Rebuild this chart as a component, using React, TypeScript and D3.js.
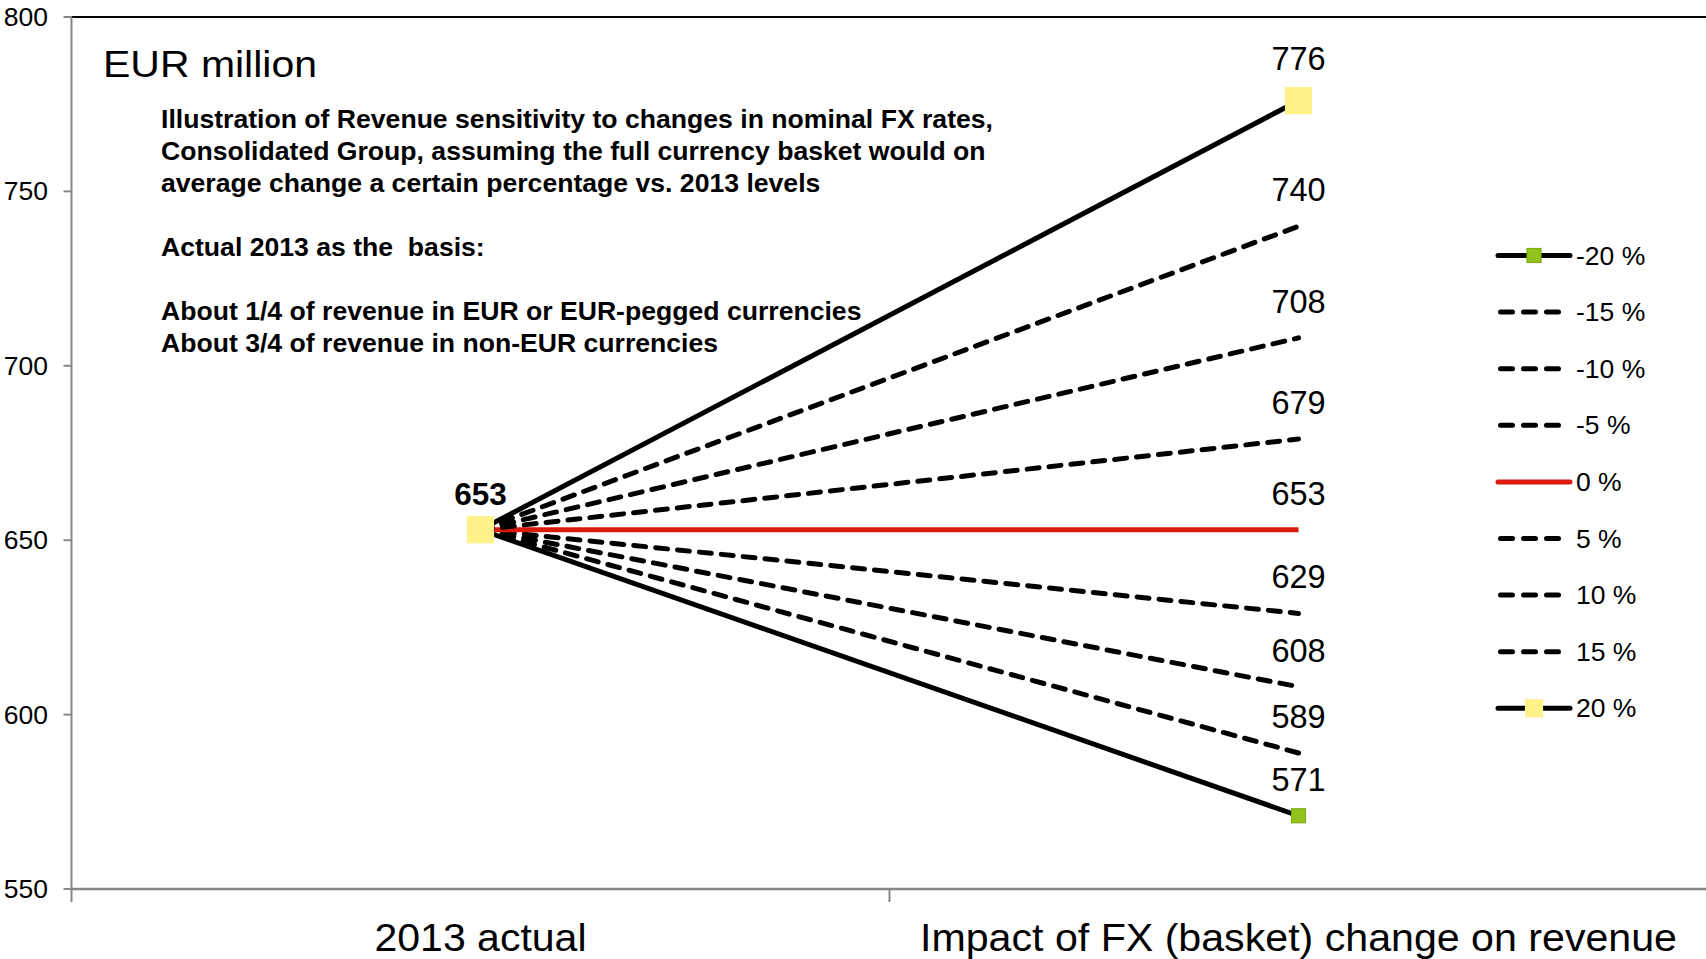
import React from "react";
import * as d3 from "d3";

// Chart data
const categories = ["2013 actual", "Impact of FX (basket) change on revenue"];
const scenarioLabels = ["-20 %", "-15 %", "-10 %", "-5 %", "0 %", "5 %", "10 %", "15 %", "20 %"];
const baseValue = 653;
const impactValues = [571, 589, 608, 629, 653, 679, 708, 740, 776];
const yTicks = [550, 600, 650, 700, 750, 800];
const notes = [
  "Illustration of Revenue sensitivity to changes in nominal FX rates,",
  "Consolidated Group, assuming the full currency basket would on",
  "average change a certain percentage vs. 2013 levels",
  "",
  "Actual 2013 as the  basis:",
  "",
  "About 1/4 of revenue in EUR or EUR-pegged currencies",
  "About 3/4 of revenue in non-EUR currencies",
];

const W = 1706;
const H = 959;
const FONT = "'Liberation Sans', Arial, Helvetica, sans-serif";

const plot = { left: 71.5, right: 1707.5, top: 17, bottom: 889 };

type Style = {
  stroke: string;
  dash?: string;
  marker?: { size: number; fill: string; stroke: string };
};

function styleFor(i: number): Style {
  const last = scenarioLabels.length - 1;
  if (i === 0) return { stroke: "#000", marker: { size: 14, fill: "#92C31E", stroke: "#7FAE12" } };
  if (i === last) return { stroke: "#000", marker: { size: 26, fill: "#FFF28A", stroke: "#FFF28A" } };
  if (scenarioLabels[i] === "0 %") return { stroke: "#DC1A0C" };
  return { stroke: "#000", dash: "12 10" };
}

export default function App() {
  const x = d3.scaleBand<string>().domain(categories).range([plot.left, plot.right]).paddingInner(0).paddingOuter(0);
  const cx = (c: string) => (x(c) as number) + x.bandwidth() / 2;
  const y = d3.scaleLinear().domain([550, 800]).range([plot.bottom, plot.top]);
  const line = d3
    .line<[number, number]>()
    .x((d) => d[0])
    .y((d) => d[1]);

  const x0 = cx(categories[0]);
  const x1 = cx(categories[1]);
  const legendTop = 255.5;
  const legendStep = 56.6;
  const legendX0 = 1500.5;
  const legendX1 = 1567.5;

  return (
    <svg
      width={W}
      height={H}
      viewBox={`0 0 ${W} ${H}`}
      style={{ position: "absolute", left: 0, top: 0, background: "#fff" }}
      fontFamily={FONT}
    >
      <rect x={0} y={0} width={W} height={H} fill="#fff" />

      {/* plot frame top edge */}
      <line x1={plot.left} x2={W} y1={plot.top} y2={plot.top} stroke="#000" strokeWidth={2.2} />

      {/* value axis */}
      <line x1={plot.left} x2={plot.left} y1={plot.top} y2={plot.bottom + 13} stroke="#868686" strokeWidth={2} />
      {yTicks.map((t) => (
        <g key={t}>
          <line x1={plot.left - 8} x2={plot.left} y1={y(t)} y2={y(t)} stroke="#868686" strokeWidth={2} />
          <text x={48} y={y(t)} textAnchor="end" dominantBaseline="central" fontSize={26.5} fill="#000">
            {t}
          </text>
        </g>
      ))}

      {/* category axis */}
      <line x1={plot.left} x2={W} y1={plot.bottom} y2={plot.bottom} stroke="#868686" strokeWidth={2.6} />
      {categories.slice(1).map((c) => (
        <line
          key={c}
          x1={x(c) as number}
          x2={x(c) as number}
          y1={plot.bottom}
          y2={plot.bottom + 13}
          stroke="#868686"
          strokeWidth={2}
        />
      ))}
      {categories.map((c, i) => (
        <text
          key={c}
          x={cx(c)}
          y={951}
          textAnchor="middle"
          fontSize={38}
          fill="#000"
          textLength={i === 0 ? 212 : 757}
          lengthAdjust="spacingAndGlyphs"
        >
          {c}
        </text>
      ))}

      {/* unit title */}
      <text x={103} y={77} fontSize={37} fill="#000" textLength={214} lengthAdjust="spacingAndGlyphs">
        EUR million
      </text>

      {/* notes block */}
      {notes.map((s, i) =>
        s ? (
          <text
            key={i}
            x={161}
            y={128 + i * 32}
            fontSize={26.6}
            fontWeight="bold"
            fill="#000"
            style={{ whiteSpace: "pre" }}
          >
            {s}
          </text>
        ) : null
      )}

      {/* scenario lines */}
      {impactValues.map((v, i) => {
        const st = styleFor(i);
        return (
          <path
            key={scenarioLabels[i]}
            d={line([
              [x0, y(baseValue)],
              [x1, y(v)],
            ]) as string}
            fill="none"
            stroke={st.stroke}
            strokeWidth={5}
            strokeDasharray={st.dash}
            strokeLinecap={st.dash ? "round" : "butt"}
          />
        );
      })}

      {/* markers */}
      {impactValues.map((v, i) => {
        const st = styleFor(i);
        if (!st.marker) return null;
        const m = st.marker;
        return (
          <g key={"m" + i}>
            {[
              [x0, y(baseValue)],
              [x1, y(v)],
            ].map(([px, py], k) => (
              <rect
                key={k}
                x={px - m.size / 2}
                y={py - m.size / 2}
                width={m.size}
                height={m.size}
                fill={m.fill}
                stroke={m.stroke}
                strokeWidth={1.2}
              />
            ))}
          </g>
        );
      })}

      {/* value labels */}
      {impactValues.map((v, i) => {
        const st = styleFor(i);
        const off = 25 + Math.max(0, ((st.marker ? st.marker.size : 14) - 14) / 2);
        return (
          <text key={"l" + i} x={x1} y={y(v) - off} textAnchor="middle" fontSize={32.5} fill="#000">
            {v}
          </text>
        );
      })}
      <text x={x0} y={y(baseValue) - 25} textAnchor="middle" fontSize={31.5} fontWeight="bold" fill="#000">
        {baseValue}
      </text>

      {/* legend */}
      {scenarioLabels.map((lab, i) => {
        const st = styleFor(i);
        const ly = legendTop + i * legendStep;
        const lm = st.marker ? Math.min(st.marker.size, 17) : 0;
        return (
          <g key={"lg" + lab}>
            <line
              x1={st.dash ? legendX0 : legendX0 - 2.5}
              x2={st.dash ? legendX1 : legendX1 + 2.5}
              y1={ly}
              y2={ly}
              stroke={st.stroke}
              strokeWidth={5}
              strokeDasharray={st.dash ? "12 11" : undefined}
              strokeLinecap="round"
            />
            {st.marker && (
              <rect
                x={1534 - lm / 2}
                y={ly - lm / 2}
                width={lm}
                height={lm}
                fill={st.marker.fill}
                stroke={st.marker.stroke}
                strokeWidth={1.2}
              />
            )}
            <text x={1576} y={ly} dominantBaseline="central" fontSize={26.5} fill="#000">
              {lab}
            </text>
          </g>
        );
      })}
    </svg>
  );
}
